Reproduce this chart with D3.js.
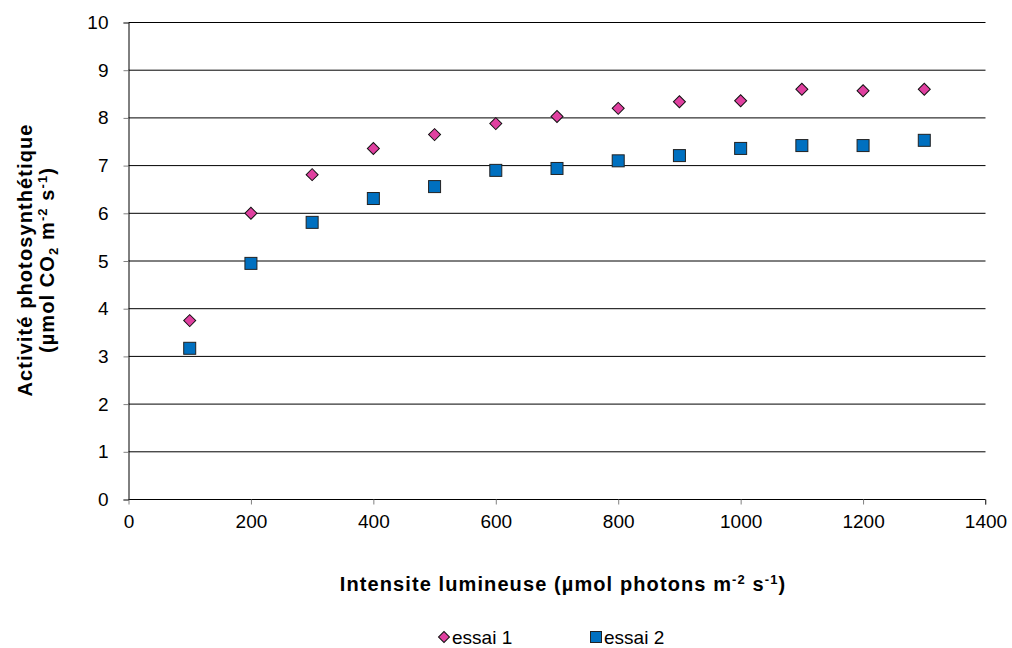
<!DOCTYPE html>
<html><head><meta charset="utf-8">
<script src="https://cdn.jsdelivr.net/npm/d3@7"></script>
<style>body{margin:0;background:#fff}svg{display:block}text{font-family:"Liberation Sans",Arial,sans-serif}</style>
</head><body>
<svg id="c" width="1012" height="648"></svg>
<script>
const intensities = [100,200,300,400,500,600,700,800,900,1000,1100,1200,1300];
const essai1 = [3.75,6.0,6.81,7.36,7.65,7.88,8.03,8.2,8.34,8.36,8.6,8.57,8.6];
const essai2 = [3.17,4.95,5.81,6.31,6.56,6.9,6.94,7.1,7.21,7.36,7.42,7.42,7.53];
const xTicks = [0,200,400,600,800,1000,1200,1400];
const yTicks = [0,1,2,3,4,5,6,7,8,9,10];
const seriesNames = ["essai 1","essai 2"];

const svg = d3.select("#c");
const L=128.5, R=985.5, T=22.5, B=499.5;
const x = d3.scaleLinear().domain([0,1400]).range([L,R]);
const y = d3.scaleLinear().domain([0,10]).range([B,T]);

// gridlines
svg.append("g").selectAll("line").data(yTicks.filter(d=>d>0)).join("line")
  .attr("x1",L).attr("x2",R).attr("y1",d=>y(d)).attr("y2",d=>y(d))
  .attr("stroke","#000").attr("stroke-width",1);

// axes
const yAxis = d3.axisLeft(y).tickValues(yTicks).tickSize(5).tickPadding(15).tickFormat(d3.format("d"));
const gy = svg.append("g").attr("transform",`translate(${L},0)`).call(yAxis);
const xAxis = d3.axisBottom(x).tickValues(xTicks).tickSize(5).tickPadding(10).tickFormat(d3.format("d"));
const gx = svg.append("g").attr("transform",`translate(0,${B})`).call(xAxis);
[gx,gy].forEach(g=>{
  g.attr("font-size",null).attr("font-family",null);
  g.select(".domain").attr("stroke","#000");
  g.selectAll(".tick line").attr("stroke","#808080");
  g.selectAll("text").style("font-size","19px").attr("fill","#000");
});
gx.select(".domain").attr("d",`M${L},0H${R}V5`);

// y title
const yt = svg.append("text").attr("transform","translate(0,260) rotate(-90)")
  .attr("text-anchor","middle").attr("font-weight","bold").style("font-size","20px").style("letter-spacing","1.1px");
yt.append("tspan").attr("x",0).attr("y",32).text("Activité photosynthétique");
const l2 = yt.append("tspan").attr("x",0).attr("y",54);
l2.append("tspan").text("(µmol CO");
l2.append("tspan").style("font-size","13px").attr("dy",4).text("2");
l2.append("tspan").attr("dy",-4).text(" m");
l2.append("tspan").style("font-size","13px").attr("dy",-7).text("-2");
l2.append("tspan").attr("dy",7).text(" s");
l2.append("tspan").style("font-size","13px").attr("dy",-7).text("-1");
l2.append("tspan").attr("dy",7).text(")");

// x title
const xt = svg.append("text").attr("x",563).attr("y",591).attr("text-anchor","middle")
  .attr("font-weight","bold").style("font-size","20px").style("letter-spacing","1.1px");
xt.append("tspan").text("Intensite lumineuse (µmol photons m");
xt.append("tspan").style("font-size","13px").attr("dy",-7).text("-2");
xt.append("tspan").attr("dy",7).text(" s");
xt.append("tspan").style("font-size","13px").attr("dy",-7).text("-1");
xt.append("tspan").attr("dy",7).text(")");

const pink="#E040A0", blue="#0070C0";
const diamond = d3.symbol().type(d3.symbolSquare).size(72);
// essai 1 diamonds
svg.append("g").selectAll("path").data(intensities.map((v,i)=>[v,essai1[i]])).join("path")
  .attr("d",diamond).attr("transform",d=>`translate(${x(d[0])},${y(d[1])}) rotate(45)`)
  .attr("fill",pink).attr("stroke","#111").attr("stroke-width",1);
// essai 2 squares
svg.append("g").selectAll("rect").data(intensities.map((v,i)=>[v,essai2[i]])).join("rect")
  .attr("x",d=>x(d[0])-6).attr("y",d=>y(d[1])-6).attr("width",12).attr("height",12)
  .attr("fill",blue).attr("stroke","#222").attr("stroke-width",1);

// legend
const lg = svg.append("g");
lg.append("path").attr("d",d3.symbol().type(d3.symbolSquare).size(60))
  .attr("transform","translate(444,637) rotate(45)").attr("fill",pink).attr("stroke","#111");
lg.append("text").attr("x",452).attr("y",644).style("font-size","19px").text(seriesNames[0]);
lg.append("rect").attr("x",590.5).attr("y",631.5).attr("width",11).attr("height",11).attr("fill",blue).attr("stroke","#222");
lg.append("text").attr("x",604).attr("y",644).style("font-size","19px").text(seriesNames[1]);
</script>
</body></html>
